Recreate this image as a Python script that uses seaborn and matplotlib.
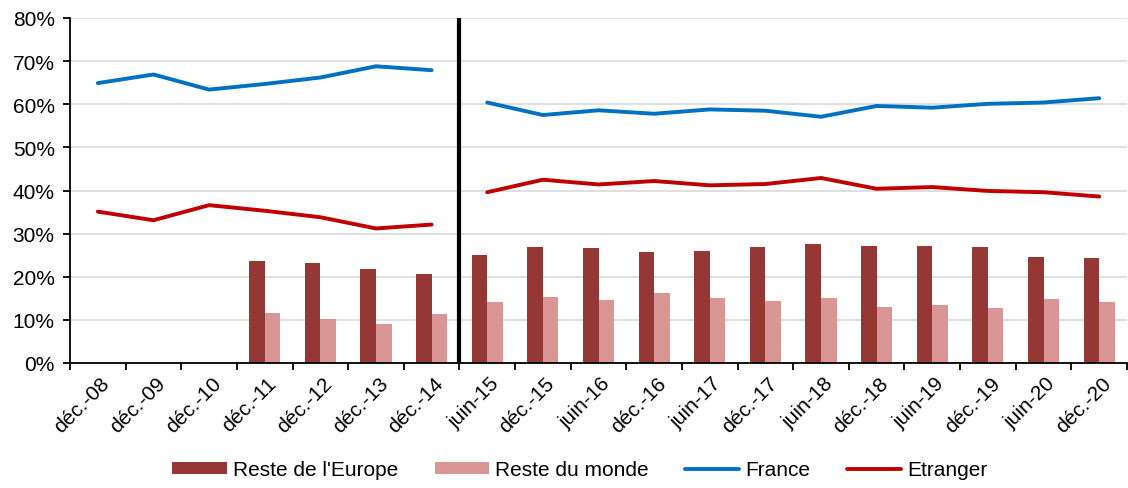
import matplotlib
matplotlib.use("Agg")
import matplotlib.pyplot as plt
import matplotlib.transforms as mtransforms
from matplotlib.lines import Line2D
from matplotlib.patches import Patch
from matplotlib.ticker import FixedLocator, FuncFormatter
import numpy as np
import pandas as pd
import seaborn as sns

# ─────────────────────────────────────────────────────────────────
# Data (in %)
# ─────────────────────────────────────────────────────────────────
categories = [
    "déc.-08", "déc.-09", "déc.-10", "déc.-11", "déc.-12", "déc.-13", "déc.-14",
    "juin-15", "déc.-15", "juin-16", "déc.-16", "juin-17", "déc.-17",
    "juin-18", "déc.-18", "juin-19", "déc.-19", "juin-20", "déc.-20",
]
period = [1] * 7 + [2] * 12

france = [64.9, 66.9, 63.4, 64.7, 66.2, 68.8, 67.9,
          60.4, 57.5, 58.6, 57.8, 58.8, 58.5, 57.1, 59.6, 59.2, 60.1, 60.4, 61.4]
etranger = [35.1, 33.1, 36.6, 35.3, 33.8, 31.2, 32.1,
            39.6, 42.5, 41.4, 42.2, 41.2, 41.5, 42.9, 40.4, 40.8, 39.9, 39.6, 38.6]
reste_europe = [np.nan, np.nan, np.nan, 23.6, 23.3, 21.8, 20.6,
                25.1, 26.9, 26.7, 25.7, 26.0, 27.0, 27.6, 27.2, 27.1, 27.0, 24.6, 24.3]
reste_monde = [np.nan, np.nan, np.nan, 11.6, 10.2, 9.1, 11.4,
               14.2, 15.4, 14.6, 16.2, 15.0, 14.3, 15.1, 13.0, 13.5, 12.7, 14.9, 14.1]

bar_labels = ["Reste de l'Europe", "Reste du monde"]
line_labels = ["France", "Etranger"]
bar_colors = ["#953735", "#D99694"]
line_colors = ["#0070C0", "#C00000"]

FS = 15

# ─────────────────────────────────────────────────────────────────
# Long-form tables
# ─────────────────────────────────────────────────────────────────
bars = pd.DataFrame({
    "date": categories * 2,
    "serie": [bar_labels[0]] * len(categories) + [bar_labels[1]] * len(categories),
    "valeur": reste_europe + reste_monde,
})
lines = pd.DataFrame({
    "pos": list(range(len(categories))) * 2,
    "periode": period * 2,
    "serie": [line_labels[0]] * len(categories) + [line_labels[1]] * len(categories),
    "valeur": france + etranger,
})

sns.set_style("white")
plt.rcParams["font.family"] = ["Liberation Sans", "DejaVu Sans"]
plt.rcParams["text.color"] = "black"

fig = plt.figure(figsize=(11.28, 4.89), dpi=100)
ax = fig.add_axes([70 / 1128, 1 - 364 / 489, 1057 / 1128, 345 / 489])

sns.barplot(
    data=bars, x="date", y="valeur", hue="serie", order=categories,
    hue_order=bar_labels, palette=bar_colors, width=0.56, saturation=1,
    errorbar=None, legend=False, ax=ax, zorder=2, linewidth=0, edgecolor="none",
)
# the two periods are drawn separately so the line breaks at the black rule
for p in (1, 2):
    sns.lineplot(
        data=lines[lines["periode"] == p], x="pos", y="valeur", hue="serie",
        hue_order=line_labels, palette=line_colors, linewidth=2.8,
        legend=False, ax=ax, zorder=3,
    )

ax.axvline(6.5, color="black", linewidth=3, zorder=4)

ax.set_xlim(-0.5, len(categories) - 0.5)
ax.set_ylim(0, 80)
ax.set_yticks(range(0, 81, 10))
ax.yaxis.set_major_formatter(FuncFormatter(lambda v, _: f"{v:.0f}%"))
ax.grid(axis="y", color="#d9d9d9", linewidth=1.2, zorder=0)
ax.set_axisbelow(True)
ax.set_xlabel("")
ax.set_ylabel("")

for side in ("top", "right"):
    ax.spines[side].set_visible(False)
for side in ("left", "bottom"):
    ax.spines[side].set_color("black")
    ax.spines[side].set_linewidth(1.3)

ax.tick_params(axis="y", which="major", left=True, length=5, width=1.3,
               color="black", labelsize=FS, pad=6, labelcolor="black")
ax.xaxis.set_minor_locator(FixedLocator(np.arange(-0.5, len(categories), 1)))
ax.tick_params(axis="x", which="minor", bottom=True, length=5, width=1.3,
               color="black")
ax.set_xticks(range(len(categories)))
ax.tick_params(axis="x", which="major", bottom=False, length=0, labelsize=FS,
               pad=12, labelcolor="black")
ax.set_xticklabels(categories, rotation=45, ha="right", va="center",
                   rotation_mode="anchor")
offset = mtransforms.ScaledTranslation(9 / 100, 0, fig.dpi_scale_trans)
for lab in ax.get_xticklabels():
    lab.set_transform(lab.get_transform() + offset)

handles = [
    Patch(facecolor=bar_colors[0], edgecolor="none"),
    Patch(facecolor=bar_colors[1], edgecolor="none"),
    Line2D([], [], color=line_colors[0], linewidth=2.8),
    Line2D([], [], color=line_colors[1], linewidth=2.8),
]
fig.legend(
    handles, bar_labels + line_labels, loc="center",
    bbox_to_anchor=(580 / 1128, 1 - 471 / 489), ncol=4, frameon=False,
    fontsize=FS, handlelength=2.6, handleheight=0.55, handletextpad=0.3,
    columnspacing=1.75, labelcolor="black",
)

fig.savefig("out.png", dpi=100)
